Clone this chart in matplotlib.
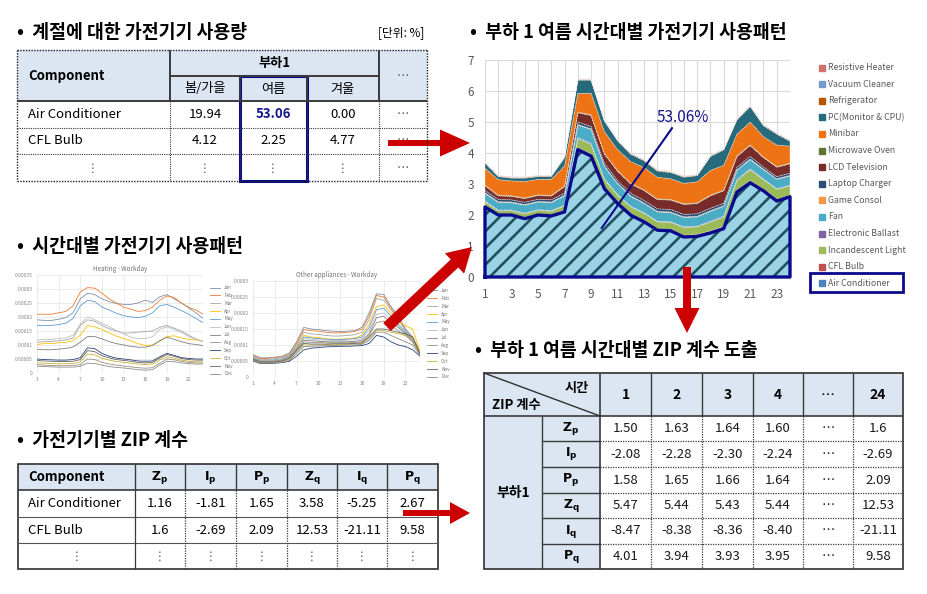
import numpy as np
import matplotlib.pyplot as plt
from matplotlib.patches import Rectangle, FancyArrow

plt.rcParams['font.family'] = ['Noto Sans CJK KR', 'DejaVu Sans']
plt.rcParams['hatch.color'] = '#22505F'
plt.rcParams['hatch.linewidth'] = 1.9

W, H = 927, 594

# ---------------- data ----------------
hours = np.arange(1, 25)

appliances = ['Air Conditioner', 'CFL Bulb', 'Incandescent Light', 'Electronic Ballast',
              'Fan', 'Game Consol', 'Laptop Charger', 'LCD Television', 'Microwave Oven',
              'Minibar', 'PC(Monitor & CPU)', 'Refrigerator', 'Vacuum Cleaner',
              'Resistive Heater']
appliance_colors = ['#4F81BD', '#C0504D', '#9BBB59', '#8064A2', '#4BACC6', '#F79646',
                    '#2C4D75', '#772C2A', '#5F7530', '#EE7314', '#276A7C', '#B65708',
                    '#729ACA', '#CD7371']

air_cond = [2.26, 2.00, 2.00, 1.88, 2.00, 1.97, 2.10, 4.11, 3.90, 2.85, 2.37, 1.99,
            1.78, 1.51, 1.49, 1.29, 1.31, 1.42, 1.56, 2.74, 3.04, 2.78, 2.45, 2.59]
cfl_bulb = [0.05, 0.04, 0.04, 0.04, 0.04, 0.04, 0.05, 0.06, 0.06, 0.05, 0.05, 0.05,
            0.05, 0.05, 0.05, 0.06, 0.06, 0.07, 0.07, 0.07, 0.07, 0.06, 0.06, 0.05]
incandescent = [0.12, 0.10, 0.10, 0.12, 0.11, 0.11, 0.15, 0.30, 0.32, 0.25, 0.22, 0.22,
                0.22, 0.22, 0.22, 0.25, 0.25, 0.28, 0.30, 0.30, 0.35, 0.30, 0.32, 0.30]
ballast = [0.02, 0.02, 0.02, 0.02, 0.02, 0.02, 0.02, 0.03, 0.03, 0.02, 0.02, 0.02,
           0.02, 0.02, 0.02, 0.02, 0.02, 0.03, 0.03, 0.03, 0.03, 0.02, 0.02, 0.02]
fan = [0.25, 0.25, 0.24, 0.26, 0.25, 0.26, 0.30, 0.40, 0.45, 0.40, 0.35, 0.32,
       0.30, 0.30, 0.30, 0.30, 0.30, 0.32, 0.32, 0.30, 0.30, 0.30, 0.30, 0.30]
game = [0.02, 0.02, 0.02, 0.02, 0.02, 0.02, 0.02, 0.02, 0.02, 0.02, 0.02, 0.02,
        0.02, 0.02, 0.02, 0.02, 0.02, 0.02, 0.02, 0.02, 0.02, 0.02, 0.02, 0.02]
laptop = [0.07, 0.07, 0.07, 0.07, 0.07, 0.07, 0.07, 0.08, 0.08, 0.08, 0.08, 0.08,
          0.08, 0.08, 0.08, 0.08, 0.08, 0.08, 0.08, 0.08, 0.08, 0.07, 0.07, 0.07]
lcd_tv = [0.15, 0.12, 0.11, 0.12, 0.12, 0.12, 0.20, 0.30, 0.35, 0.30, 0.30, 0.30,
          0.32, 0.30, 0.30, 0.32, 0.33, 0.40, 0.40, 0.35, 0.35, 0.30, 0.30, 0.30]
microwave = [0.02, 0.02, 0.02, 0.02, 0.02, 0.02, 0.02, 0.02, 0.02, 0.02, 0.02, 0.02,
             0.02, 0.02, 0.02, 0.02, 0.02, 0.02, 0.02, 0.02, 0.02, 0.02, 0.02, 0.02]
minibar = [0.55, 0.50, 0.48, 0.53, 0.50, 0.52, 0.65, 0.60, 0.70, 0.70, 0.68, 0.70,
           0.72, 0.70, 0.67, 0.66, 0.68, 0.80, 0.80, 0.70, 0.74, 0.66, 0.70, 0.55]
pc = [0.17, 0.10, 0.09, 0.11, 0.09, 0.09, 0.27, 0.43, 0.42, 0.35, 0.28, 0.24,
      0.22, 0.20, 0.20, 0.20, 0.20, 0.45, 0.50, 0.46, 0.50, 0.35, 0.35, 0.16]
fridge = [0.02, 0.02, 0.02, 0.02, 0.02, 0.02, 0.02, 0.02, 0.02, 0.02, 0.02, 0.02,
          0.02, 0.02, 0.02, 0.02, 0.02, 0.02, 0.02, 0.02, 0.02, 0.02, 0.02, 0.02]
vacuum = [0.01, 0.01, 0.01, 0.01, 0.01, 0.01, 0.01, 0.01, 0.01, 0.01, 0.01, 0.01,
          0.01, 0.01, 0.01, 0.01, 0.01, 0.01, 0.01, 0.01, 0.01, 0.01, 0.01, 0.01]
heater = [0.01, 0.01, 0.01, 0.01, 0.01, 0.01, 0.01, 0.01, 0.01, 0.01, 0.01, 0.01,
          0.01, 0.01, 0.01, 0.01, 0.01, 0.01, 0.01, 0.01, 0.01, 0.01, 0.01, 0.01]
layers = [air_cond, cfl_bulb, incandescent, ballast, fan, game, laptop, lcd_tv,
          microwave, minibar, pc, fridge, vacuum, heater]

# small monthly profiles (x 1e-5)
months = ['Jan', 'Feb', 'Mar', 'Apr', 'May', 'Jun', 'Jul', 'Aug', 'Sep', 'Oct', 'Nov', 'Dec']
month_colors = ['#7F8FA6', '#ED7D31', '#A5A5A5', '#FFC000', '#5B9BD5', '#BFBFBF',
                '#7F7F7F', '#9E8F7A', '#264478', '#C9B037', '#636363', '#8C8C8C']
heating = {
    'Jan': [19, 18.8, 18.8, 19.2, 19.8, 21.5, 26.5, 28.5, 28, 26.5, 25.5, 24.8, 24.5, 24.5, 25, 26, 25.2, 27.2, 28, 26.5, 25, 23.3, 21.5, 19.5],
    'Feb': [21, 21, 21, 21.5, 22, 24, 29, 30.5, 30.3, 28.5, 26.5, 25, 23.5, 22.8, 22, 22.3, 23.5, 26, 27.5, 27, 25, 23.5, 22.5, 21],
    'Mar': [11, 11.2, 11.3, 11.5, 11.8, 12.5, 17, 19, 18.5, 17, 15.8, 15, 14.2, 14.3, 14.6, 14.8, 15, 16.3, 17, 16, 15, 13.5, 12.2, 11.2],
    'Apr': [10.2, 10.5, 10.5, 10.8, 11, 11.5, 13.5, 17, 16.5, 15.5, 14.3, 13.2, 12.3, 11.5, 10.5, 9.8, 10, 11.5, 13, 13.3, 12.5, 12, 11.8, 11.5],
    'May': [17, 17, 17, 17.3, 17.8, 19.5, 24, 26, 25.5, 23.5, 22.5, 21.3, 20.5, 20, 19.8, 20.2, 21.5, 24, 24.5, 23.5, 22.3, 21, 19.5, 18],
    'Jun': [11.8, 12, 12, 12.3, 12.5, 13.5, 17.5, 20, 19, 17.8, 16.5, 15.2, 14, 12.8, 12.3, 12.3, 13, 15.5, 16.5, 15.5, 14.5, 13, 12, 11.3],
    'Jul': [8.5, 8.3, 8.3, 8.5, 8.8, 9.3, 11, 13, 13, 12.2, 11.2, 10.5, 10, 9.5, 9.2, 9.2, 9.8, 11.5, 12.8, 12, 11.2, 10.5, 10.2, 9.8],
    'Aug': [3, 2.8, 2.7, 2.6, 2.6, 2.7, 3, 5, 4.8, 3.8, 3.2, 2.8, 2.5, 2.2, 1.9, 1.7, 1.9, 3.5, 5, 4.7, 4.2, 3.8, 3.6, 3.6],
    'Sep': [5, 4.8, 4.7, 4.6, 4.6, 4.8, 5.5, 9, 8.7, 7, 6, 5.3, 5, 4.7, 4.3, 4.2, 4.3, 5.8, 7, 6.3, 5.5, 5.2, 5, 5],
    'Oct': [3.7, 3.5, 3.4, 3.3, 3.3, 3.4, 4, 6.8, 6.5, 5.3, 4.6, 4.1, 3.8, 3.5, 3.2, 3, 3.2, 4.7, 5.8, 5.3, 4.6, 4.2, 4.0, 4.0],
    'Nov': [4.5, 4.3, 4.2, 4.1, 4.1, 4.2, 4.8, 8, 7.6, 6.2, 5.4, 4.8, 4.5, 4.2, 3.8, 3.6, 3.8, 5.3, 6.6, 6, 5.2, 4.8, 4.6, 4.6],
    'Dec': [2.5, 2.3, 2.2, 2.1, 2.1, 2.1, 2.4, 3.5, 3.4, 2.8, 2.3, 2, 1.8, 1.5, 1.2, 1, 1.2, 2.8, 4.2, 4, 3.6, 3.3, 3.2, 3.2],
}
other_app = {
    'Jan': [7, 6, 6, 6.2, 6.5, 7.5, 11, 15.5, 15, 14.8, 14.5, 14.3, 14.2, 14.3, 14.5, 15.5, 20, 26, 25.8, 22, 19, 15, 12.5, 8],
    'Feb': [6.8, 5.8, 5.8, 6, 6.3, 7.2, 10.5, 14.8, 14.5, 14.3, 14, 13.8, 13.8, 14, 14.2, 15, 19, 25.5, 25, 21.5, 18.5, 14.5, 12, 7.8],
    'Mar': [6.5, 5.5, 5.5, 5.7, 6, 7, 10, 14, 13.5, 13.3, 13, 12.8, 12.8, 13, 13.2, 14, 18, 24.5, 24, 21, 18, 14.5, 12, 7.6],
    'Apr': [6, 5, 5, 5.2, 5.5, 6.5, 9.5, 13, 12.5, 12.3, 12, 11.8, 11.8, 12, 12.2, 13, 16.5, 22, 22.5, 20, 17.5, 16, 15, 8],
    'May': [6.2, 5.2, 5.2, 5.4, 5.7, 6.6, 9.3, 12.5, 12.2, 12, 11.8, 11.7, 11.7, 11.8, 12, 12.5, 15.5, 21, 21.5, 19, 16.5, 14, 11.5, 7.5],
    'Jun': [6, 5, 5, 5.2, 5.5, 6.4, 9, 12, 11.8, 11.6, 11.5, 11.4, 11.4, 11.5, 11.6, 12, 14.5, 19.5, 20, 18, 16, 13.5, 11.5, 7.4],
    'Jul': [5.8, 4.9, 4.9, 5, 5.3, 6.2, 8.7, 11.5, 11.3, 11.2, 11, 11, 11, 11, 11.1, 11.5, 13.5, 18.5, 19, 17, 15.5, 13.5, 11, 7.3],
    'Aug': [5.7, 4.8, 4.8, 4.9, 5.2, 6, 8.5, 11, 10.8, 10.8, 10.7, 10.7, 10.7, 10.7, 10.8, 11, 13, 17, 17.5, 16, 14.5, 13, 11, 7.2],
    'Sep': [5, 4.2, 4.2, 4.3, 4.5, 4.9, 6.5, 8.5, 9, 9.2, 9.4, 9.5, 9.6, 9.6, 9.7, 9.8, 10.5, 13, 12.5, 11, 10, 9.5, 8.5, 6.5],
    'Oct': [5.3, 4.5, 4.5, 4.6, 4.8, 5.5, 7.8, 10, 10, 10, 10.1, 10.2, 10.2, 10.2, 10.3, 10.5, 12, 14.5, 14.5, 14, 13.5, 13, 12, 7],
    'Nov': [5.5, 4.6, 4.6, 4.7, 5, 5.8, 8.2, 10.5, 10.3, 10.3, 10.3, 10.4, 10.4, 10.4, 10.5, 10.7, 12.5, 15, 15, 14.5, 14, 13.5, 12.5, 7],
    'Dec': [5.2, 4.3, 4.3, 4.4, 4.6, 5.2, 7.3, 9.5, 9.6, 9.7, 9.8, 9.9, 9.9, 10, 10, 10.2, 11.5, 14, 14, 13, 12, 11, 10, 6.8],
}

# tables
season_cols = ['봄/가을', '여름', '겨울']
season_rows = ['Air Conditioner', 'CFL Bulb']
season_vals = [['19.94', '53.06', '0.00'], ['4.12', '2.25', '4.77']]

zip_names = [r'$\mathbf{Z_p}$', r'$\mathbf{I_p}$', r'$\mathbf{P_p}$',
             r'$\mathbf{Z_q}$', r'$\mathbf{I_q}$', r'$\mathbf{P_q}$']
zip_rows = ['Air Conditioner', 'CFL Bulb']
zip_vals = [['1.16', '-1.81', '1.65', '3.58', '-5.25', '2.67'],
            ['1.6', '-2.69', '2.09', '12.53', '-21.11', '9.58']]

hour_cols = ['1', '2', '3', '4', '…', '24']
hour_vals = [['1.50', '1.63', '1.64', '1.60', '…', '1.6'],
             ['-2.08', '-2.28', '-2.30', '-2.24', '…', '-2.69'],
             ['1.58', '1.65', '1.66', '1.64', '…', '2.09'],
             ['5.47', '5.44', '5.43', '5.44', '…', '12.53'],
             ['-8.47', '-8.38', '-8.36', '-8.40', '…', '-21.11'],
             ['4.01', '3.94', '3.93', '3.95', '…', '9.58']]

# ---------------- figure ----------------
fig = plt.figure(figsize=(W / 100, H / 100), dpi=100)
fig.patch.set_facecolor('white')


def px(x0, y0, w, h):
    return [x0 / W, 1 - (y0 + h) / H, w / W, h / H]


# main stacked area chart
ax = fig.add_axes(px(485, 60, 305, 217))
base = np.zeros(24)
for i, vals in enumerate(layers):
    top = base + np.array(vals)
    if i == 0:
        ax.fill_between(hours, base, top, facecolor='#9AD3E6', hatch='//', linewidth=0, zorder=2)
    else:
        ax.fill_between(hours, base, top, facecolor=appliance_colors[i], edgecolor='white',
                        linewidth=0.5, linestyle=(0, (1, 1.5)), zorder=2)
    base = top
ax.plot(np.r_[1, hours, 24, 1], np.r_[0, air_cond, 0, 0], color='#0A0A8C', lw=2.4,
        clip_on=False, zorder=3)
ax.plot([15.1, 9.8], [4.8, 1.58], color='#0A0A8C', lw=1.5, zorder=4)
ax.text(15.9, 5.15, '53.06%', color='#14148C', fontsize=11, ha='center', va='center', zorder=4)
ax.set_xlim(1, 24)
ax.set_ylim(0, 7)
ax.set_xticks(hours)
ax.set_xticklabels([str(h) if h % 2 == 1 else '' for h in hours])
ax.set_yticks(range(8))
ax.grid(color='#D9D9D9', lw=0.8)
ax.set_axisbelow(True)
ax.tick_params(length=0, labelsize=8.5, labelcolor='#595959', pad=8)
for s in ax.spines.values():
    s.set_visible(False)

# small monthly charts
def small_chart(pos, data, title, ymax, ylabels, legend_anchor):
    a = fig.add_axes(pos)
    for m, c in zip(months, month_colors):
        a.plot(hours, np.array(data[m]) * 1e-5, color=c, lw=0.6, label=m)
    a.set_xlim(1, 24)
    a.set_ylim(0, ymax)
    a.set_xticks([1, 4, 7, 10, 13, 16, 19, 22])
    a.set_yticks(np.linspace(0, ymax, len(ylabels)))
    a.set_yticklabels(ylabels)
    a.grid(color='#E3E3E3', lw=0.5)
    a.tick_params(length=0, labelsize=3.5, labelcolor='#808080', pad=3)
    for s in a.spines.values():
        s.set_visible(False)
    a.set_title(title, fontsize=4.5, color='#707070', pad=3)
    a.legend(loc='upper left', bbox_to_anchor=legend_anchor, fontsize=3.3, frameon=False,
             handlelength=2.2, labelspacing=0.62, labelcolor='#707070', borderpad=0)
    return a


small_chart(px(37, 275, 166, 98), heating, 'Heating - Workday', 0.00035,
            ['0', '0.00005', '0.0001', '0.00015', '0.0002', '0.00025', '0.0003', '0.00035'],
            (1.03, 0.92))
small_chart(px(253, 281, 167, 96), other_app, 'Other appliances - Workday', 0.0003,
            ['0', '0.00005', '0.0001', '0.00015', '0.0002', '0.00025', '0.0003'],
            (1.03, 0.95))

# overlay for tables, texts, arrows
ov = fig.add_axes([0, 0, 1, 1], zorder=10)
ov.set_xlim(0, W)
ov.set_ylim(H, 0)
ov.axis('off')
ov.patch.set_alpha(0)

HDR = '#DCE6F2'
DOT = (0, (1, 1))


def hl(x0, x1, y, ls='-', lw=1.0, c='#3A3A3A'):
    ov.plot([x0, x1], [y, y], ls=ls, lw=lw, color=c, solid_capstyle='butt')


def vl(x, y0, y1, ls='-', lw=1.0, c='#3A3A3A'):
    ov.plot([x, x], [y0, y1], ls=ls, lw=lw, color=c, solid_capstyle='butt')


def txt(x, y, s, size=9, ha='center', **kw):
    ov.text(x, y, s, fontsize=size, ha=ha, va='center', **kw)


# section titles
TS = 13.2
txt(17, 33, '•  계절에 대한 가전기기 사용량', TS, 'left', fontweight='bold')
txt(424, 33, '[단위: %]', 8.5, 'right')
txt(17, 246, '•  시간대별 가전기기 사용패턴', TS, 'left', fontweight='bold')
txt(17, 440, '•  가전기기별 ZIP 계수', TS, 'left', fontweight='bold')
txt(470, 33, '•  부하 1 여름 시간대별 가전기기 사용패턴', TS, 'left', fontweight='bold')
txt(475, 350, '•  부하 1 여름 시간대별 ZIP 계수 도출', TS, 'left', fontweight='bold')

# main chart legend
for i, (name, c) in enumerate(zip(appliances[::-1], appliance_colors[::-1])):
    y = 67.5 + i * 16.6
    ov.add_patch(Rectangle((819, y - 3), 6, 6, color=c))
    txt(828, y, name, 6.3, 'left', color='#595959')
ov.add_patch(Rectangle((810, 273), 93, 19, fill=False, ec='#0A0A8C', lw=2))

# table 1: seasonal usage
c1 = [17, 170, 240, 307, 379, 427]
r1 = [50, 76, 101, 128, 154, 181]
ov.add_patch(Rectangle((17, 50), 410, 51, color=HDR, lw=0))
hl(17, 427, 50, DOT, c='#202020'); hl(17, 427, 181, DOT, c='#202020')
vl(17, 50, 181, DOT, c='#202020'); vl(427, 50, 181, DOT, c='#202020')
hl(170, 379, 76, lw=1.4); hl(17, 427, 101, lw=1.4)
vl(170, 50, 101, lw=1.4); vl(379, 50, 101, lw=1.4)
vl(240, 76, 101, lw=1.4); vl(307, 76, 101, lw=1.4)
for y in r1[3:5]:
    hl(17, 427, y, DOT, lw=0.8)
for x in c1[1:5]:
    vl(x, 101, 181, DOT, lw=0.8)
txt(28, 76, 'Component', 9.5, 'left', fontweight='bold')
txt(275, 63, '부하1', 9.5, fontweight='bold')
txt(403, 76, '…', 9, color='#555555')
for j, s in enumerate(season_cols):
    txt((c1[j + 1] + c1[j + 2]) / 2, 89, s, 9.5)
for i, name in enumerate(season_rows):
    yc = (r1[i + 2] + r1[i + 3]) / 2
    txt(28, yc, name, 9.5, 'left')
    for j, v in enumerate(season_vals[i]):
        if i == 0 and j == 1:
            txt((c1[j + 1] + c1[j + 2]) / 2, yc, v, 9.5, color='#14148C', fontweight='bold')
        else:
            txt((c1[j + 1] + c1[j + 2]) / 2, yc, v, 9.5)
    txt(403, yc, '…', 9, color='#555555')
for x in [93, 205, 273, 343]:
    txt(x, 168, '⋮', 8.5, color='#555555')
txt(403, 168, '…', 9, color='#555555')
ov.add_patch(Rectangle((240.5, 76), 66.5, 105, fill=False, ec='#0A0A8C', lw=2.2))

# table 3: ZIP per appliance
c3 = [18, 135, 185, 236, 287, 337, 387, 438]
r3 = [464, 490, 517, 543, 569]
ov.add_patch(Rectangle((18, 464), 420, 26, color=HDR, lw=0))
ov.add_patch(Rectangle((18, 464), 420, 105, fill=False, ec='#303030', lw=1.2))
hl(18, 438, 490, lw=1.2)
for y in r3[2:4]:
    hl(18, 438, y, lw=0.8, c='#555555')
for k, x in enumerate(c3[1:-1]):
    vl(x, 464, 490, lw=1.0)
    vl(x, 490, 569, '-' if k == 0 else DOT, lw=0.9)
txt(28, 477, 'Component', 9.5, 'left', fontweight='bold')
for j, s in enumerate(zip_names):
    txt((c3[j + 1] + c3[j + 2]) / 2, 478, s, 9)
for i, name in enumerate(zip_rows):
    yc = (r3[i + 1] + r3[i + 2]) / 2
    txt(28, yc, name, 9.5, 'left')
    for j, v in enumerate(zip_vals[i]):
        txt((c3[j + 1] + c3[j + 2]) / 2, yc, v, 9.5)
for j in range(7):
    txt((c3[j] + c3[j + 1]) / 2, 556, '⋮', 8.5, color='#555555')

# table 4: hourly ZIP for load 1
c4 = [484, 542, 600, 651, 702, 753, 803, 853, 903]
r4 = [373, 416, 441, 467, 493, 518, 544, 569]
ov.add_patch(Rectangle((484, 373), 419, 43, color=HDR, lw=0))
ov.add_patch(Rectangle((484, 416), 116, 153, color=HDR, lw=0))
ov.add_patch(Rectangle((484, 373), 419, 196, fill=False, ec='#303030', lw=1.2))
hl(484, 903, 416, lw=1.2)
vl(542, 416, 569, lw=1.0)
vl(600, 373, 569, lw=1.2)
for x in c4[3:-1]:
    vl(x, 373, 416, lw=1.0)
    vl(x, 416, 569, DOT, lw=0.9)
for y in r4[2:-1]:
    hl(542, 600, y, lw=1.0)
    hl(600, 903, y, DOT, lw=0.9)
ov.plot([484, 600], [373, 416], color='#303030', lw=1.0)
txt(577, 388, '시간', 9.5, fontweight='bold')
txt(516, 405, 'ZIP 계수', 9.5, fontweight='bold')
for j, s in enumerate(hour_cols):
    txt((c4[j + 2] + c4[j + 3]) / 2, 395, s, 10, fontweight='bold')
txt(513, 493, '부하1', 10, fontweight='bold')
for i, s in enumerate(zip_names):
    yc = (r4[i + 1] + r4[i + 2]) / 2
    txt(571, yc, s, 9)
    for j, v in enumerate(hour_vals[i]):
        txt((c4[j + 2] + c4[j + 3]) / 2, yc, v, 9.5, color='#1A1A1A')

# red arrows
RED = '#CC0000'
for (x, y, dx, dy, w, hw, hlen) in [(388, 143, 82, 0, 6, 27, 30),
                                    (387, 327, 85, -80, 11, 28, 24),
                                    (687, 267, 0, 66, 8, 25, 25),
                                    (403, 513, 67, 0, 6, 22, 20)]:
    ov.add_patch(FancyArrow(x, y, dx, dy, width=w, head_width=hw, head_length=hlen,
                            length_includes_head=True, color=RED, lw=0))

fig.savefig('out.png', dpi=100)
